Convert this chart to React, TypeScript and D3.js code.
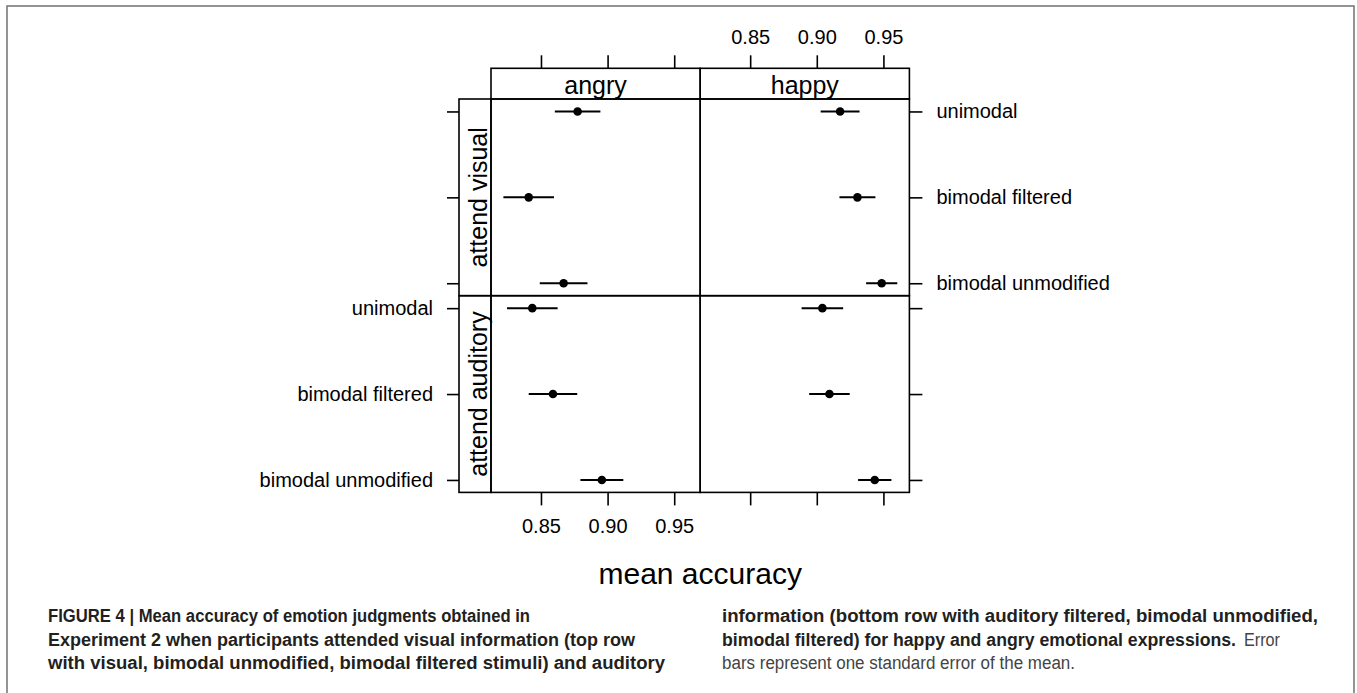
import React, { useRef, useEffect } from 'react';
import * as d3 from 'd3';

// panel factors
const emotions = ['angry', 'happy'];
const attention = ['attend visual', 'attend auditory'];
const stimuli = ['unimodal', 'bimodal filtered', 'bimodal unmodified'];
const xTicks = [0.85, 0.9, 0.95];

// mean accuracy and standard error, in stimuli order
const angryVisualMean = [0.8775, 0.8408, 0.867];
const angryVisualSE = [0.0171, 0.019, 0.0179];
const happyVisualMean = [0.9175, 0.9305, 0.9487];
const happyVisualSE = [0.0146, 0.0135, 0.0117];
const angryAuditoryMean = [0.8435, 0.859, 0.8957];
const angryAuditorySE = [0.019, 0.0182, 0.0161];
const happyAuditoryMean = [0.9042, 0.9095, 0.9435];
const happyAuditorySE = [0.0156, 0.0152, 0.0125];

// caption pieces: text, bold, x, line, width
const captionParts = [
  { t: 'FIGURE 4 | Mean accuracy of emotion judgments obtained in', b: true, x: 48, line: 0, w: 482 },
  { t: 'Experiment 2 when participants attended visual information (top row', b: true, x: 48, line: 1, w: 587 },
  { t: 'with visual, bimodal unmodified, bimodal filtered stimuli) and auditory', b: true, x: 48, line: 2, w: 617 },
  { t: 'information (bottom row with auditory filtered, bimodal unmodified,', b: true, x: 722, line: 0, w: 596 },
  { t: 'bimodal filtered) for happy and angry emotional expressions.', b: true, x: 722, line: 1, w: 514 },
  { t: 'Error', b: false, x: 1244, line: 1, w: 36 },
  { t: 'bars represent one standard error of the mean.', b: false, x: 722, line: 2, w: 353 },
];

const FONT = "'Liberation Sans', Arial, Helvetica, sans-serif";

export default function App() {
  const ref = useRef<SVGSVGElement>(null);

  useEffect(() => {
    const svg = d3.select(ref.current);
    svg.selectAll('*').remove();

    const W = 1357, H = 693;
    const left = 491, top = 99;
    const pw = 209.2, ph = 196.7;
    const stripH = 30.7, stripW = 32;
    const lw = 1.6;

    svg.attr('width', W).attr('height', H).attr('viewBox', `0 0 ${W} ${H}`);

    svg.append('rect')
      .attr('x', 0).attr('y', 0).attr('width', W).attr('height', H)
      .attr('fill', '#fff');

    // outer frame of the figure
    svg.append('rect')
      .attr('x', 7).attr('y', 6).attr('width', 1347).attr('height', 720)
      .attr('fill', 'none').attr('stroke', '#7a7a7a').attr('stroke-width', 1.6);

    const xFor = (col: number) =>
      d3.scaleLinear().domain([0.8125, 0.9695]).range([left + col * pw, left + (col + 1) * pw]);
    const yFor = (row: number) =>
      d3.scalePoint<string>().domain(stimuli).range([top + row * ph, top + (row + 1) * ph]).padding(0.145);

    const panels = [
      { col: 0, row: 0, mean: angryVisualMean, se: angryVisualSE },
      { col: 1, row: 0, mean: happyVisualMean, se: happyVisualSE },
      { col: 0, row: 1, mean: angryAuditoryMean, se: angryAuditorySE },
      { col: 1, row: 1, mean: happyAuditoryMean, se: happyAuditorySE },
    ];

    const styleAxis = (g: any, labels: boolean) => {
      g.select('.domain').remove();
      g.selectAll('.tick line').attr('stroke', '#000').attr('stroke-width', lw);
      g.selectAll('.tick text')
        .attr('fill', '#000')
        .style('font-family', FONT)
        .style('font-size', '20px');
      if (!labels) g.selectAll('.tick text').remove();
    };
    const fmt = d3.format('.2f');

    // x axes: bottom of bottom row, top above strips
    emotions.forEach((e, col) => {
      const x = xFor(col);
      svg.append('g')
        .attr('transform', `translate(0,${top + 2 * ph})`)
        .call(d3.axisBottom(x).tickValues(xTicks).tickFormat(fmt as any).tickSize(13).tickPadding(13))
        .call((g: any) => styleAxis(g, col === 0));
      svg.append('g')
        .attr('transform', `translate(0,${top - stripH})`)
        .call(d3.axisTop(x).tickValues(xTicks).tickFormat(fmt as any).tickSize(13).tickPadding(11))
        .call((g: any) => styleAxis(g, col === 1));
    });

    // y axes: left beside the strip column, right of the happy column
    attention.forEach((a, row) => {
      const y = yFor(row);
      svg.append('g')
        .attr('transform', `translate(${left - stripW},0)`)
        .call(d3.axisLeft(y).tickSize(12).tickPadding(14))
        .call((g: any) => styleAxis(g, row === 1));
      svg.append('g')
        .attr('transform', `translate(${left + 2 * pw},0)`)
        .call(d3.axisRight(y).tickSize(13).tickPadding(14))
        .call((g: any) => styleAxis(g, row === 0));
    });

    // column strips
    emotions.forEach((e, col) => {
      svg.append('rect')
        .attr('x', left + col * pw).attr('y', top - stripH)
        .attr('width', pw).attr('height', stripH)
        .attr('fill', 'none').attr('stroke', '#000').attr('stroke-width', lw);
      svg.append('text')
        .attr('x', left + col * pw + pw / 2).attr('y', top - 5)
        .attr('text-anchor', 'middle')
        .style('font-family', FONT).style('font-size', '25px')
        .text(e);
    });

    // row strips
    attention.forEach((a, row) => {
      svg.append('rect')
        .attr('x', left - stripW).attr('y', top + row * ph)
        .attr('width', stripW).attr('height', ph)
        .attr('fill', 'none').attr('stroke', '#000').attr('stroke-width', lw);
      svg.append('text')
        .attr('transform', `translate(${left - 4},${top + row * ph + ph / 2}) rotate(-90)`)
        .attr('text-anchor', 'middle')
        .style('font-family', FONT).style('font-size', '25px')
        .text(a);
    });

    // panels with error bars and points
    panels.forEach(p => {
      const x = xFor(p.col);
      const y = yFor(p.row);
      const g = svg.append('g');
      g.append('rect')
        .attr('x', left + p.col * pw).attr('y', top + p.row * ph)
        .attr('width', pw).attr('height', ph)
        .attr('fill', 'none').attr('stroke', '#000').attr('stroke-width', lw);
      const rows = stimuli.map((s, i) => ({ s, m: p.mean[i], se: p.se[i] }));
      g.selectAll('line.err')
        .data(rows)
        .join('line')
          .attr('class', 'err')
          .attr('x1', d => x(d.m - d.se))
          .attr('x2', d => x(d.m + d.se))
          .attr('y1', d => y(d.s)!)
          .attr('y2', d => y(d.s)!)
          .attr('stroke', '#000')
          .attr('stroke-width', 2);
      g.selectAll('circle')
        .data(rows)
        .join('circle')
          .attr('cx', d => x(d.m))
          .attr('cy', d => y(d.s)!)
          .attr('r', 4.3)
          .attr('fill', '#000');
    });

    // x label
    svg.append('text')
      .attr('x', left + pw).attr('y', 584)
      .attr('text-anchor', 'middle')
      .style('font-family', FONT).style('font-size', '30px')
      .text('mean accuracy');

    // caption
    svg.selectAll('text.caption')
      .data(captionParts)
      .join('text')
        .attr('class', 'caption')
        .attr('x', d => d.x)
        .attr('y', d => 622 + d.line * 23.5)
        .attr('textLength', d => d.w)
        .attr('lengthAdjust', 'spacingAndGlyphs')
        .attr('font-weight', d => (d.b ? 'bold' : 'normal'))
        .attr('fill', d => (d.b ? '#231f20' : '#444'))
        .style('font-family', FONT)
        .style('font-size', '18px')
        .text(d => d.t);
  }, []);

  return <svg ref={ref} style={{ position: 'absolute', left: 0, top: 0, display: 'block' }} />;
}
